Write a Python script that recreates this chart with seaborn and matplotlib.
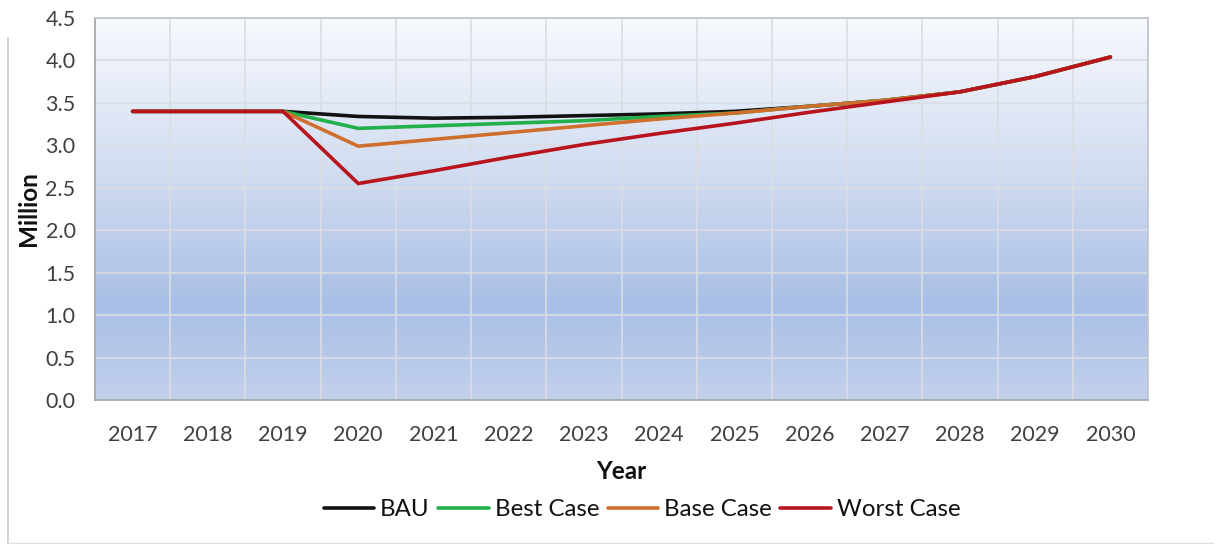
import numpy as np
import pandas as pd
import matplotlib
matplotlib.use('Agg')
import matplotlib.pyplot as plt
from matplotlib.colors import LinearSegmentedColormap
from matplotlib.lines import Line2D
import seaborn as sns

years = ['2017', '2018', '2019', '2020', '2021', '2022', '2023',
         '2024', '2025', '2026', '2027', '2028', '2029', '2030']
bau   = [3.40, 3.40, 3.40, 3.34, 3.32, 3.33, 3.35, 3.37, 3.40, 3.46, 3.53, 3.63, 3.81, 4.04]
best  = [3.40, 3.40, 3.40, 3.20, 3.23, 3.26, 3.29, 3.34, 3.38, 3.46, 3.53, 3.63, 3.81, 4.04]
base  = [3.40, 3.40, 3.40, 2.99, 3.07, 3.15, 3.23, 3.31, 3.38, 3.46, 3.53, 3.63, 3.81, 4.04]
worst = [3.40, 3.40, 3.40, 2.55, 2.70, 2.86, 3.01, 3.14, 3.26, 3.39, 3.51, 3.63, 3.81, 4.04]
series = ['BAU', 'Best Case', 'Base Case', 'Worst Case']
colors = ['#111111', '#22b04b', '#cf6f2d', '#b8141d']

df = pd.DataFrame({'Year': years * 4,
                   'Million': bau + best + base + worst,
                   'Scenario': np.repeat(series, len(years))})

sns.set_theme(style='white')
plt.rcParams['font.family'] = ['Lato', 'DejaVu Sans']

fig = plt.figure(figsize=(12.21, 5.44), dpi=100)
ax = fig.add_axes([95/1221, 1-400/544, (1148-95)/1221, (400-18)/544])

# gradient background of the plot area
grad = LinearSegmentedColormap.from_list('bg', [(0.0, '#c2d0ec'), (0.25, '#a9bfe6'),
                                                 (0.6, '#d2ddf1'), (1.0, '#f7f9fd')])
ax.imshow(np.linspace(0, 1, 256).reshape(-1, 1), cmap=grad, origin='lower',
          aspect='auto', extent=[0, 1, 0, 1], transform=ax.transAxes, zorder=0)

sns.lineplot(data=df, x='Year', y='Million', hue='Scenario', hue_order=series,
             palette=colors, linewidth=2.6, sort=False, ax=ax, zorder=3)
for ln in ax.get_lines():
    ln.set_solid_capstyle('round')

ax.set_xlim(-0.5, len(years) - 0.5)
ax.set_ylim(0, 4.5)
ax.set_yticks(np.arange(0, 4.51, 0.5))
ax.set_yticklabels([f'{v:.1f}' for v in np.arange(0, 4.51, 0.5)])
ax.set_xticks(np.arange(-0.5, len(years), 1), minor=True)
ax.grid(True, axis='y', which='major', color='#dadde3', linewidth=1.2, zorder=1)
ax.grid(True, axis='x', which='minor', color='#dadde3', linewidth=1.2, zorder=1)
ax.grid(False, axis='x', which='major')
ax.tick_params(axis='both', which='both', length=0, labelsize=15.5, colors='#404040')
ax.tick_params(axis='x', pad=18)
ax.tick_params(axis='y', pad=14)
for s in ax.spines.values():
    s.set_color('#bfc3ca')
    s.set_linewidth(1.2)
ax.spines['left'].set_color('#a0a4aa')
ax.spines['bottom'].set_color('#a0a4aa')

ax.set_xlabel('Year', fontsize=17.5, fontweight='bold', color='#111111', labelpad=11)
ax.set_ylabel('Million', fontsize=17.5, fontweight='bold', color='#111111')
ax.yaxis.set_label_coords(-0.052, 0.5)

handles = [Line2D([], [], color=c, linewidth=2.6) for c in colors]
ax.legend_.remove()
fig.legend(handles, series, loc='center', bbox_to_anchor=(642/1221, 1-510/544),
           ncol=4, frameon=False, fontsize=17.3, handlelength=2.1, handletextpad=0.25,
           columnspacing=0.35, labelcolor='#111111')

# outer frame lines of the original image
fig.add_artist(Line2D([8/1221, 8/1221], [0, 1-38/544], color='#d0d0d0', linewidth=1.2))
fig.add_artist(Line2D([8/1221, 1213/1221], [1/544, 1/544], color='#e0e0e0', linewidth=1.0))

fig.savefig('out.png', dpi=100)
